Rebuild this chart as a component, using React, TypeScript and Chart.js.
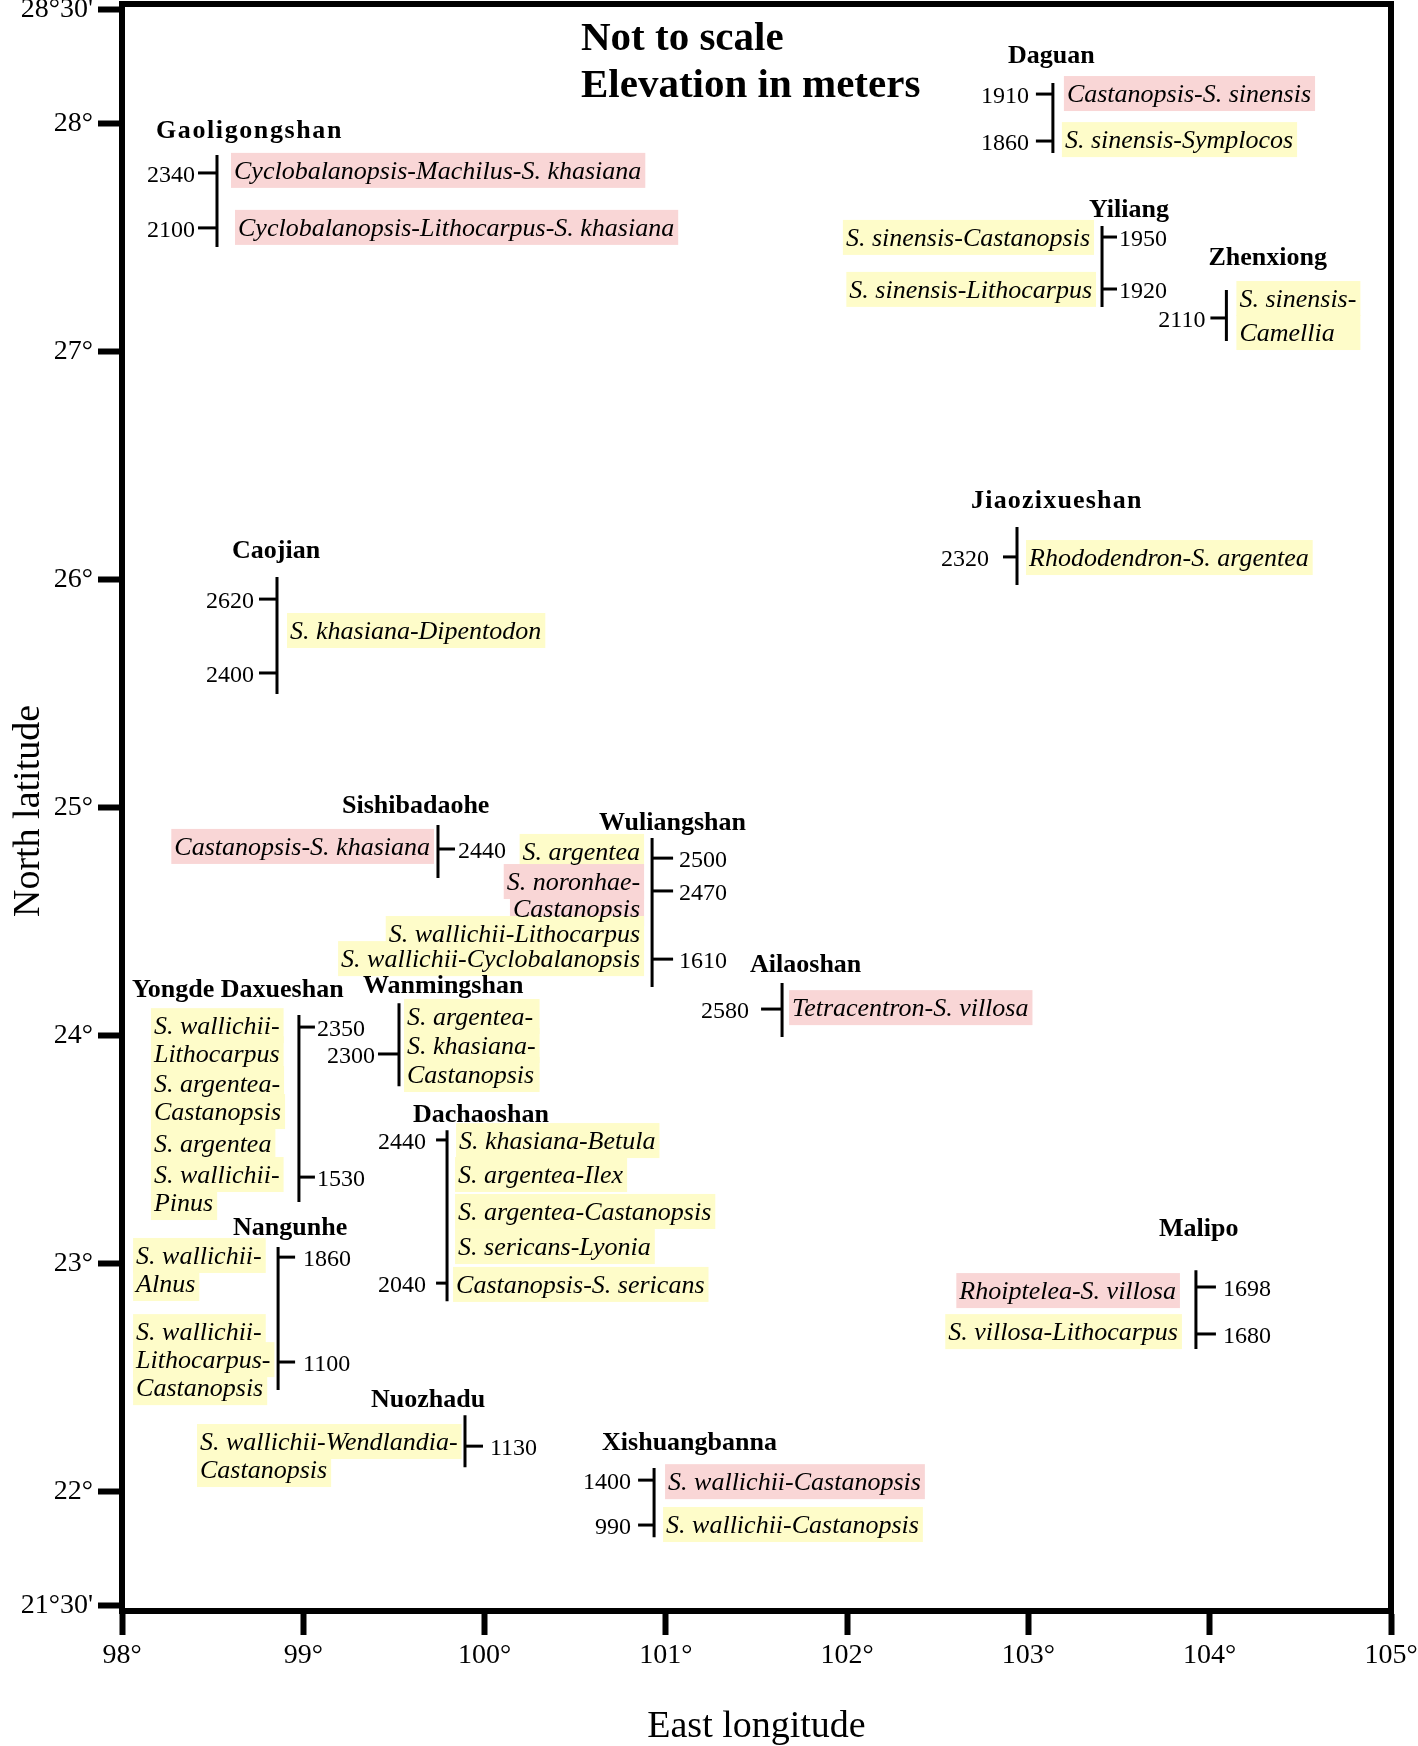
import React, { useEffect, useRef } from "react";
import { Chart, registerables } from "chart.js";

Chart.register(...registerables);

// ---------- DATA ----------
const X_TICKS = [98, 99, 100, 101, 102, 103, 104, 105];
const X_TICK_LABELS = ["98°", "99°", "100°", "101°", "102°", "103°", "104°", "105°"];
const Y_TICKS = [21.5, 22, 23, 24, 25, 26, 27, 28, 28.5];
const Y_TICK_LABELS = ["21°30'", "22°", "23°", "24°", "25°", "26°", "27°", "28°", "28°30'"];

const SITES = [
  "Gaoligongshan", "Daguan", "Yiliang", "Zhenxiong", "Caojian", "Jiaozixueshan",
  "Sishibadaohe", "Wuliangshan", "Ailaoshan", "Yongde Daxueshan", "Wanmingshan",
  "Dachaoshan", "Nangunhe", "Nuozhadu", "Xishuangbanna", "Malipo",
];
const SITE_LON = [98.524, 103.135, 103.406, 104.092, 98.855, 102.937, 99.743, 100.924, 101.641, 98.976, 99.528, 99.793, 98.861, 99.892, 100.935, 103.924];
const SITE_LAT_TOP = [27.864, 28.18, 27.552, 27.272, 26.013, 26.232, 24.925, 24.868, 24.232, 24.092, 24.144, 23.587, 23.074, 22.337, 22.105, 22.973];
const SITE_LAT_BOTTOM = [27.46, 27.873, 27.197, 27.048, 25.5, 25.978, 24.693, 24.215, 23.995, 23.272, 23.78, 22.837, 22.447, 22.109, 21.802, 22.627];

const ELEV_SITE = [0, 0, 1, 1, 2, 2, 3, 4, 4, 5, 6, 7, 7, 7, 8, 9, 9, 10, 11, 11, 12, 12, 13, 14, 14, 15, 15];
const ELEV_VALUE = [2340, 2100, 1910, 1860, 1950, 1920, 2110, 2620, 2400, 2320, 2440, 2500, 2470, 1610, 2580, 2350, 1530, 2300, 2440, 2040, 1860, 1100, 1130, 1400, 990, 1698, 1680];
const ELEV_LAT = [27.785, 27.544, 28.131, 27.925, 27.504, 27.276, 27.149, 25.916, 25.592, 26.101, 24.82, 24.78, 24.636, 24.337, 24.118, 24.039, 23.381, 23.921, 23.544, 22.916, 23.03, 22.57, 22.201, 22.052, 21.855, 22.899, 22.693];

const COMM_SITE = [0, 0, 1, 1, 2, 2, 3, 4, 5, 6, 7, 7, 7, 7, 8, 9, 9, 9, 9, 10, 11, 11, 11, 11, 11, 12, 12, 13, 14, 14, 15, 15];
const COMM_TEXT = [
  "Cyclobalanopsis-Machilus-S. khasiana",
  "Cyclobalanopsis-Lithocarpus-S. khasiana",
  "Castanopsis-S. sinensis",
  "S. sinensis-Symplocos",
  "S. sinensis-Castanopsis",
  "S. sinensis-Lithocarpus",
  "S. sinensis-\nCamellia",
  "S. khasiana-Dipentodon",
  "Rhododendron-S. argentea",
  "Castanopsis-S. khasiana",
  "S. argentea",
  "S. noronhae-\nCastanopsis",
  "S. wallichii-Lithocarpus",
  "S. wallichii-Cyclobalanopsis",
  "Tetracentron-S. villosa",
  "S. wallichii-\nLithocarpus",
  "S. argentea-\nCastanopsis",
  "S. argentea",
  "S. wallichii-\nPinus",
  "S. argentea-\nS. khasiana-\nCastanopsis",
  "S. khasiana-Betula",
  "S. argentea-Ilex",
  "S. argentea-Castanopsis",
  "S. sericans-Lyonia",
  "Castanopsis-S. sericans",
  "S. wallichii-\nAlnus",
  "S. wallichii-\nLithocarpus-\nCastanopsis",
  "S. wallichii-Wendlandia-\nCastanopsis",
  "S. wallichii-Castanopsis",
  "S. wallichii-Castanopsis",
  "Rhoiptelea-S. villosa",
  "S. villosa-Lithocarpus",
];
const COMM_LAT = [27.759, 27.509, 28.096, 27.894, 27.465, 27.237, 27.197, 25.741, 26.061, 24.794, 24.772, 24.64, 24.412, 24.302, 24.087, 24.008, 23.754, 23.489, 23.355, 24.048, 23.504, 23.355, 23.193, 23.039, 22.873, 23.0, 22.666, 22.184, 22.008, 21.82, 22.846, 22.666];
const COMM_TYPE = ["p", "p", "p", "y", "y", "y", "y", "y", "y", "p", "y", "p", "y", "y", "p", "y", "y", "y", "y", "y", "y", "y", "y", "y", "y", "y", "y", "y", "p", "y", "p", "y"];

// ---------- LAYOUT (pixels / styles) ----------
// [nameDx, nameDy, tickSide, tickLen, numGap, lineHeight, letterSpacing]
const SITE_LAYOUT: number[][] = [
  [-61, -17, -1, 19, 3, 28, 1.6],
  [-45, -20, -1, 17, 7, 28, 0],
  [-13, -9, 1, 15, 2, 28, 0],
  [-18, -25, -1, 16, 5, 34, 0],
  [-45, -19, -1, 18, 5, 28, 0],
  [-46, -19, -1, 14, 14, 28, 1.2],
  [-96, -12, 1, 17, 3, 28, 0],
  [-53, -8, 1, 21, 6, 27, 0],
  [-32, -11, -1, 21, 12, 28, 0],
  [-167, -18, 1, 16, 2, 28, 0],
  [-36, -10, -1, 21, 3, 29, 0],
  [-34, -8, -1, 11, 10, 28, 0],
  [-45, -12, 1, 17, 8, 28, 0],
  [-94, -8, 1, 18, 7, 28, 0],
  [-52, -18, -1, 16, 7, 28, 0],
  [-37, -34, 1, 20, 7, 28, 0],
];
// [dx from bracket, align: 0 = left, 1 = right, one box for block: 1]
const COMM_LAYOUT: number[][] = [
  [17, 0, 0], [21, 0, 0], [14, 0, 0], [12, 0, 0], [-12, 1, 0], [-10, 1, 0], [13, 0, 1], [13, 0, 0], [12, 0, 0],
  [-8, 1, 0], [-12, 1, 0], [-12, 1, 0], [-12, 1, 0], [-12, 1, 0], [10, 0, 0],
  [-145, 0, 0], [-145, 0, 0], [-145, 0, 0], [-145, 0, 0], [8, 0, 1],
  [12, 0, 0], [11, 0, 0], [11, 0, 0], [11, 0, 0], [9, 0, 0],
  [-142, 0, 0], [-142, 0, 0], [-265, 0, 0], [14, 0, 0], [12, 0, 0], [-20, 1, 0], [-18, 1, 0],
];

const SERIF = '"Liberation Serif", "Times New Roman", serif';
const PINK = "#f9d6d6";
const YELLOW = "#fefcc9";

const annotPlugin = {
  id: "annot",
  beforeDatasetsDraw(chart: any) {
    const ctx = chart.ctx;
    const xs = chart.scales.x;
    const ys = chart.scales.y;
    ctx.save();
    ctx.font = `italic 26px ${SERIF}`;
    COMM_TEXT.forEach((txt, i) => {
      const s = COMM_SITE[i];
      const bx = xs.getPixelForValue(SITE_LON[s]);
      const base = ys.getPixelForValue(COMM_LAT[i]);
      const lh = SITE_LAYOUT[s][5];
      const [dx, align, block] = COMM_LAYOUT[i];
      ctx.fillStyle = COMM_TYPE[i] === "p" ? PINK : YELLOW;
      const lines = txt.split("\n");
      const maxW = Math.max(...lines.map((l) => ctx.measureText(l).width));
      lines.forEach((line, j) => {
        const w = block ? maxW : ctx.measureText(line).width;
        const x0 = align === 0 ? bx + dx : bx + dx - w;
        const y = base + j * lh;
        ctx.fillRect(x0 - 3, y - 26, w + 7, 35);
      });
    });
    ctx.restore();
  },
  afterDatasetsDraw(chart: any) {
    const ctx = chart.ctx;
    const xs = chart.scales.x;
    const ys = chart.scales.y;
    ctx.save();
    ctx.fillStyle = "#000";
    ctx.strokeStyle = "#000";
    // community text
    ctx.font = `italic 26px ${SERIF}`;
    ctx.textBaseline = "alphabetic";
    COMM_TEXT.forEach((txt, i) => {
      const s = COMM_SITE[i];
      const bx = xs.getPixelForValue(SITE_LON[s]);
      const base = ys.getPixelForValue(COMM_LAT[i]);
      const lh = SITE_LAYOUT[s][5];
      const [dx, align] = COMM_LAYOUT[i];
      ctx.textAlign = align === 0 ? "left" : "right";
      txt.split("\n").forEach((line, j) => {
        ctx.fillText(line, bx + dx, base + j * lh);
      });
    });
    // site names
    ctx.font = `bold 26px ${SERIF}`;
    ctx.textAlign = "left";
    SITES.forEach((name, i) => {
      const L = SITE_LAYOUT[i];
      const bx = xs.getPixelForValue(SITE_LON[i]);
      const ty = ys.getPixelForValue(SITE_LAT_TOP[i]);
      (ctx as any).letterSpacing = `${L[6]}px`;
      ctx.fillText(name, bx + L[0], ty + L[1]);
    });
    (ctx as any).letterSpacing = "0px";
    // elevation ticks & numbers
    ctx.font = `24px ${SERIF}`;
    ctx.lineWidth = 3;
    ctx.lineCap = "butt";
    ELEV_VALUE.forEach((v, i) => {
      const s = ELEV_SITE[i];
      const L = SITE_LAYOUT[s];
      const side = L[2];
      const bx = xs.getPixelForValue(SITE_LON[s]);
      const y = ys.getPixelForValue(ELEV_LAT[i]);
      const x2 = bx + side * L[3];
      ctx.beginPath();
      ctx.moveTo(bx, y);
      ctx.lineTo(x2, y);
      ctx.stroke();
      ctx.textAlign = side < 0 ? "right" : "left";
      ctx.fillText(String(v), x2 + side * L[4], y + 9);
    });
    ctx.restore();
  },
  afterDraw(chart: any) {
    const ctx = chart.ctx;
    const a = chart.chartArea;
    ctx.save();
    ctx.strokeStyle = "#000";
    ctx.lineWidth = 6;
    ctx.strokeRect(a.left, a.top, a.right - a.left, a.bottom - a.top);
    ctx.fillStyle = "#000";
    ctx.font = `bold 41px ${SERIF}`;
    ctx.textAlign = "left";
    ctx.textBaseline = "alphabetic";
    ctx.fillText("Not to scale", 581, 50);
    ctx.fillText("Elevation in meters", 581, 97);
    ctx.font = `38px ${SERIF}`;
    ctx.textAlign = "center";
    ctx.fillText("East longitude", (a.left + a.right) / 2, 1737);
    ctx.translate(39, 811);
    ctx.rotate(-Math.PI / 2);
    ctx.fillText("North latitude", 0, 0);
    ctx.restore();
  },
};

export default function App() {
  const ref = useRef<HTMLCanvasElement | null>(null);
  useEffect(() => {
    if (!ref.current) return;
    const tickFont = { family: SERIF, size: 28 };
    const chart = new Chart(ref.current, {
      type: "scatter",
      data: {
        datasets: SITES.map((s, i) => ({
          label: s,
          data: [
            { x: SITE_LON[i], y: SITE_LAT_TOP[i] },
            { x: SITE_LON[i], y: SITE_LAT_BOTTOM[i] },
          ],
          showLine: true,
          borderColor: "#000",
          borderWidth: 3,
          pointRadius: 0,
          pointHoverRadius: 0,
        })),
      },
      options: {
        animation: false,
        responsive: false,
        maintainAspectRatio: false,
        events: [],
        layout: { padding: { top: 4, right: 27, bottom: 0, left: 0 } },
        plugins: { legend: { display: false }, tooltip: { enabled: false } },
        scales: {
          x: {
            type: "linear",
            min: 98,
            max: 105,
            afterBuildTicks: (s: any) => {
              s.ticks = X_TICKS.map((v) => ({ value: v }));
            },
            afterFit: (s: any) => {
              s.height = 135;
              s.paddingLeft = 0;
              s.paddingRight = 0;
            },
            ticks: {
              callback: (_v: any, i: number) => X_TICK_LABELS[i],
              font: tickFont,
              color: "#000",
              padding: 4,
              maxRotation: 0,
              autoSkip: false,
            },
            grid: { drawOnChartArea: false, drawTicks: true, tickLength: 24, tickWidth: 6, tickColor: "#000" },
            border: { display: true, width: 6, color: "#000" },
          },
          y: {
            type: "linear",
            min: 21.478,
            max: 28.526,
            afterBuildTicks: (s: any) => {
              s.ticks = Y_TICKS.map((v) => ({ value: v }));
            },
            afterFit: (s: any) => {
              s.width = 122;
              s.paddingTop = 0;
              s.paddingBottom = 0;
            },
            ticks: {
              callback: (_v: any, i: number) => Y_TICK_LABELS[i],
              font: tickFont,
              color: "#000",
              padding: 5,
              autoSkip: false,
            },
            grid: { drawOnChartArea: false, drawTicks: true, tickLength: 24, tickWidth: 6, tickColor: "#000" },
            border: { display: true, width: 6, color: "#000" },
          },
        },
      } as any,
      plugins: [annotPlugin],
    });
    return () => chart.destroy();
  }, []);
  return (
    <div style={{ position: "absolute", left: 0, top: 0, width: 1418, height: 1746, background: "#fff" }}>
      <canvas ref={ref} width={1418} height={1746} style={{ display: "block", width: 1418, height: 1746 }} />
    </div>
  );
}
